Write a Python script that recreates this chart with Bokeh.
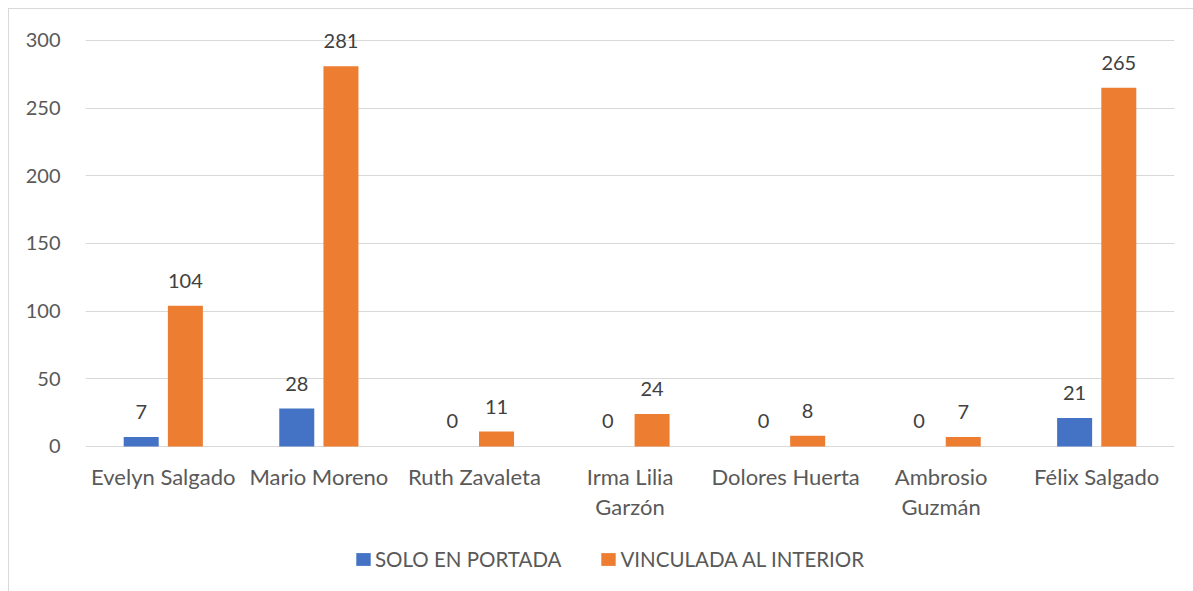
from bokeh.plotting import figure
from bokeh.models import (ColumnDataSource, FactorRange, Range1d, FixedTicker,
                          Legend, LegendItem)
from bokeh.transform import dodge
from bokeh.core.properties import value
from bokeh.embed import file_html
from bokeh.resources import INLINE

categories = ["Evelyn Salgado", "Mario Moreno", "Ruth Zavaleta", "Irma Lilia Garzón",
              "Dolores Huerta", "Ambrosio Guzmán", "Félix Salgado"]
category_labels = ["Evelyn Salgado", "Mario Moreno", "Ruth Zavaleta", "Irma Lilia\nGarzón",
                   "Dolores Huerta", "Ambrosio\nGuzmán", "Félix Salgado"]
solo_portada = [7, 28, 0, 0, 0, 0, 21]
vinculada_interior = [104, 281, 11, 24, 8, 7, 265]
series_names = ["SOLO EN PORTADA", "VINCULADA AL INTERIOR"]
y_ticks = [0, 50, 100, 150, 200, 250, 300]

BLUE = "#4472C4"
ORANGE = "#ED7D31"
FONT = "Lato"

src = ColumnDataSource(dict(cat=categories, solo=solo_portada, vinc=vinculada_interior,
                            solo_lbl=[str(v) for v in solo_portada],
                            vinc_lbl=[str(v) for v in vinculada_interior],
                            cat_lbl=category_labels, zero=[0] * len(categories)))

# the frame fills the figure vertically: room above 300 for data labels,
# room below zero for the category labels and the legend
p = figure(x_range=FactorRange(*categories), y_range=Range1d(-107.9, 322.9),
           width=1185, height=583, output_backend="svg", toolbar_location=None,
           x_axis_location=None,
           min_border_left=76, min_border_right=20, min_border_top=0, min_border_bottom=0)
p.styles = {"margin-left": "8px", "margin-top": "8px",
            "border-left": "1px solid #D9D9D9", "border-top": "1px solid #D9D9D9"}
p.outline_line_color = None

off = 0.142
w = 0.225
r1 = p.vbar(x=dodge("cat", -off, range=p.x_range), top="solo", width=w, source=src,
            fill_color=BLUE, line_color=None)
r2 = p.vbar(x=dodge("cat", off, range=p.x_range), top="vinc", width=w, source=src,
            fill_color=ORANGE, line_color=None)

for col, lbl, o in (("solo", "solo_lbl", -off), ("vinc", "vinc_lbl", off)):
    p.text(x=dodge("cat", o, range=p.x_range), y=col, text=lbl, source=src,
           text_align="center", text_baseline="alphabetic", y_offset=-25,
           text_font=value(FONT), text_font_size="20px", text_color="#404040")

# category labels under the zero line
p.text(x="cat", y="zero", text="cat_lbl", source=src, text_align="center",
       text_baseline="top", y_offset=17, text_line_height=1.08,
       text_font=value(FONT), text_font_size="22px", text_color="#595959")

p.yaxis.ticker = FixedTicker(ticks=y_ticks)
p.yaxis.axis_line_color = None
p.yaxis.major_tick_line_color = None
p.yaxis.minor_tick_line_color = None
p.yaxis.major_label_standoff = 19
p.yaxis.major_label_text_font = FONT
p.yaxis.major_label_text_font_size = "20px"
p.yaxis.major_label_text_color = "#595959"

p.xgrid.grid_line_color = None
p.ygrid.ticker = FixedTicker(ticks=y_ticks)
p.ygrid.grid_line_color = "#D9D9D9"
p.ygrid.grid_line_width = 1

legend = Legend(items=[LegendItem(label=series_names[0], renderers=[r1]),
                       LegendItem(label=series_names[1], renderers=[r2])],
                orientation="horizontal", location=(269, 21),
                glyph_width=18, glyph_height=16, label_standoff=3, spacing=38,
                padding=4, margin=0, border_line_color=None, background_fill_alpha=0,
                label_text_font=FONT, label_text_font_size="20.5px",
                label_text_color="#595959")
p.add_layout(legend, "center")

open("out.html", "w").write(file_html(p, INLINE))
